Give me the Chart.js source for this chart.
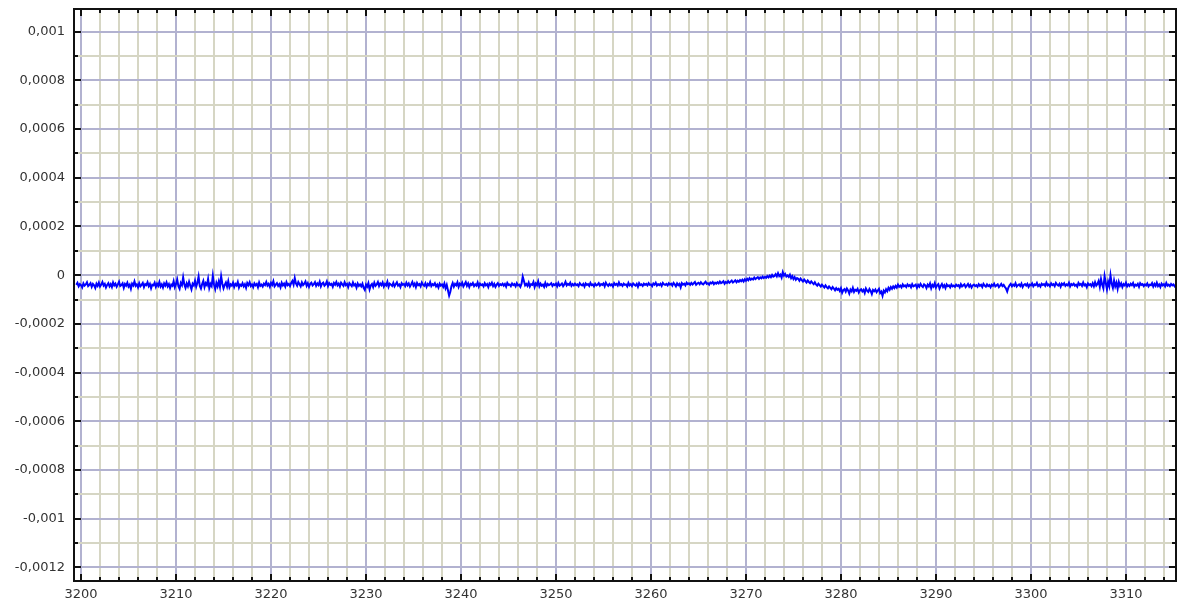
<!DOCTYPE html>
<html>
<head>
<meta charset="utf-8">
<script src="https://cdn.jsdelivr.net/npm/chart.js@4.4.1/dist/chart.umd.min.js"></script>
<style>
  html, body { margin: 0; padding: 0; background: #fff; }
  canvas { display: block; }
</style>
</head>
<body>
<canvas id="sig" width="1181" height="608"></canvas>
<script>
// signal samples (units of 1e-5), one every STEP starting at X0
const X0 = 3199.5;
const STEP = 0.125;
const signalE5 = [
  -4,-3.2,-4.6,-3.7,-4.1,-5,-3.4,-4.3,-3.8,-2.9,-4.5,-4,-3.3,-4.8,-3.6,-4.2,-5.3,-3.5,-4.4,-3.1,
  -4.7,-3.9,-2.8,-4.3,-3.6,-5.1,-4,-3.3,-4.6,-3.7,-4.9,-3,-4.2,-3.5,-4.8,-3.8,-2.7,-4.5,-4.1,-3.4,
  -5.2,-3.6,-4.3,-3.1,-4.7,-3.9,-5.6,-3.5,-4.2,-2.6,-4.4,-3.8,-5,-3.3,-4.6,-4,-3.2,-4.9,-3.7,-4.1,
  -2.9,-4.5,-3.6,-5.4,-3.9,-4.2,-3.1,-4.8,-3.5,-4.4,-2.8,-4.7,-3.8,-5.1,-3.4,-4.3,-3,-4.6,-3.7,-5.3,
  -3.9,-4.4,-2.5,-4.9,-3.6,-1.8,-4.5,-5.6,-3.2,-4.1,-0.9,-3.8,-5.2,-3.4,-4.6,-2.7,-4.3,-5.8,-3.5,-4.2,
  -2.3,-4.7,-3.1,-0.6,-4.4,-5.5,-3.7,-2.4,-4.9,-3.3,-4.1,-1.6,-5.3,-3.6,-4.5,-0.3,-3.9,-5.7,-3.2,-4.6,
  -2.6,-4.8,-0.5,-3.5,-5.4,-4,-3,-4.7,-2.5,-5,-3.8,-4.3,-3.1,-4.9,-3.6,-4.2,-2.8,-5.1,-3.9,-4.4,
  -3.3,-4.6,-3.7,-5.2,-3.2,-4.1,-2.9,-4.5,-3.8,-4.9,-3.4,-4.2,-3.6,-5,-3,-4.4,-3.9,-4.7,-3.5,-4.1,
  -2.8,-4.3,-3.6,-4.8,-3.2,-4,-2.5,-4.6,-3.9,-3.3,-4.4,-3.7,-5,-3.1,-4.2,-3.5,-4.7,-2.9,-4.1,-3.6,
  -4.5,-3.2,-2.4,-3.9,-1.2,-3.4,-4.3,-2.8,-3.7,-4.6,-3,-4.1,-3.5,-2.6,-4.4,-3.3,-4.8,-3.6,-3.1,-4.2,
  -3.7,-2.9,-4.4,-3.4,-4.1,-2.7,-4.6,-3.5,-3.1,-4.3,-3.8,-2.6,-4.5,-3.3,-4,-3.6,-4.8,-3.2,-3.9,-2.8,
  -4.2,-3.5,-4.7,-3.1,-3.8,-4.4,-2.9,-4.1,-3.6,-4.9,-3.3,-3.9,-4.5,-3,-4.2,-3.7,-5.1,-3.4,-4.4,-3.8,
  -4.6,-3.5,-5.2,-6.1,-3.9,-4.7,-3.3,-5.8,-4.2,-3.6,-4.9,-3.1,-4.4,-3.8,-2.8,-4.5,-3.4,-4.1,-3,-4.7,
  -3.6,-4.2,-2.7,-4.8,-3.5,-3.9,-4.4,-3.2,-4.6,-3.7,-2.9,-4.3,-3.8,-4.9,-3.3,-4,-3.6,-4.5,-3.1,-4.2,
  -3.4,-4.7,-3.8,-2.8,-4.3,-3.5,-4.9,-3.2,-4.1,-3.7,-4.6,-3,-3.9,-4.4,-3.3,-4.8,-3.6,-4.2,-2.9,-4.5,
  -3.7,-4.1,-3.3,-4.6,-3.9,-5.1,-3.5,-4.3,-3.8,-4.8,-3.4,-5.4,-4,-6.2,-8.4,-6.8,-4.5,-3.2,-4.7,-3.6,
  -4.2,-2.9,-4.8,-3.5,-4.1,-3.1,-4.6,-3.7,-2.8,-4.4,-3.4,-4.9,-3.6,-4,-3.2,-4.5,-3.8,-4.3,-3,-4.7,
  -3.5,-4.1,-3.8,-4.6,-3.3,-4.2,-3.7,-4.9,-3.4,-4,-3.1,-4.5,-3.6,-4.8,-3.9,-3.3,-4.4,-3.7,-4.1,-3.5,
  -4.3,-3.6,-4.7,-3.2,-4,-3.8,-4.5,-3.4,-4.1,-3.7,-4.6,-3.3,-4.2,-3.9,-4.8,-3.5,-0.6,-2.4,-4.2,-3.6,
  -4.4,-3.1,-4.7,-3.7,-4,-2.8,-4.9,-3.4,-4.1,-2.5,-4.6,-3.5,-4.3,-3.9,-4.8,-3.2,-4.5,-3.6,-4.1,-3.8,
  -3.3,-4.4,-3.7,-4.1,-3.5,-4.6,-3.2,-4.3,-3.9,-3.4,-4.5,-3.8,-2.7,-4.2,-3.6,-4,-3.1,-4.4,-3.7,-4.2,
  -3.5,-4.1,-3.8,-4.5,-3.3,-3.9,-4.2,-3.6,-4.7,-3.4,-4,-3.7,-4.4,-3.2,-4.1,-3.8,-4.6,-3.5,-4.2,-3.9,
  -3.3,-4.3,-3.7,-4,-3.4,-4.6,-3.1,-3.9,-4.4,-3.6,-4.2,-3.8,-4.7,-3.3,-4,-3.6,-4.3,-3,-4.1,-3.7,
  -4.4,-3.5,-4,-3.8,-4.6,-3.2,-4.2,-3.7,-4.5,-3.4,-3.9,-4.3,-3.6,-4.8,-3.3,-4.1,-3.8,-4.4,-3.5,-4,
  -3.6,-4.2,-3.3,-4,-3.8,-4.5,-3.4,-3.9,-3.1,-4.3,-3.7,-4.1,-3.5,-4.4,-3.2,-3.8,-4,-3.6,-4.2,-3.3,
  -3.9,-3.5,-4.3,-3.2,-3.8,-4.6,-3.4,-4.1,-3.6,-5,-3.3,-3.9,-3.5,-4.2,-3.1,-3.7,-3.4,-4,-3.2,-3.8,
  -3.3,-2.8,-3.9,-3.4,-3.1,-3.7,-2.9,-3.5,-3.8,-3.2,-2.7,-3.6,-3.3,-3.9,-3,-3.4,-2.8,-3.7,-3.1,-3.5,
  -2.9,-3.4,-2.6,-3.3,-3,-2.5,-3.5,-2.8,-3.2,-2.4,-3.1,-2.7,-2.2,-3,-2.6,-2.1,-2.9,-2.3,-2.7,-2,
  -2.5,-1.9,-2.6,-1.7,-2.3,-1.5,-2.1,-1.2,-1.9,-1.4,-1.8,-1,-1.6,-1.2,-0.8,-1.5,-0.9,-1.3,-0.6,-1.2,
  -0.7,-1.1,-0.4,-0.9,-0.2,-0.8,0.1,-0.6,-0.3,0.4,-0.5,0.8,-0.4,0.2,-1,1.2,-0.2,0.5,-0.6,-0.1,
  -0.7,0.2,-1.2,-0.4,-1.6,-0.8,-1.9,-1.2,-1.5,-2.3,-1.4,-2,-2.6,-1.8,-2.4,-3,-2.2,-2.8,-3.3,-2.6,
  -3.2,-3.7,-2.9,-3.8,-4.3,-3.5,-4.1,-4.7,-3.9,-4.5,-5.1,-4.2,-4.9,-5.4,-4.6,-5.2,-5.8,-4.9,-5.5,-6.2,
  -5.3,-6,-5.6,-6.5,-5.4,-7.2,-6.1,-5.7,-6.8,-5.5,-6.3,-7.6,-5.9,-6.6,-5.2,-6.9,-6,-6.4,-5.6,-7.1,
  -6.2,-5.8,-6.7,-6,-7.3,-5.5,-6.4,-6.9,-5.7,-6.5,-7.8,-6.1,-6.6,-5.9,-7,-6.3,-5.6,-7.4,-6.8,-8.5,
  -6.4,-7.1,-5.8,-6.6,-5.2,-6,-4.9,-5.6,-4.6,-5.3,-4.4,-5.1,-3.9,-4.8,-4.3,-5,-3.8,-4.6,-4.2,-4.9,
  -3.8,-4.5,-4.1,-5,-3.7,-4.6,-4.3,-3.9,-5.2,-4,-4.7,-3.6,-4.4,-4.9,-3.8,-4.2,-5.3,-3.9,-4.6,-3.4,
  -5.4,-4,-4.7,-3.3,-5.1,-4.2,-3.7,-5.5,-4.4,-3.6,-4.9,-4.1,-5.3,-3.8,-4.5,-4.2,-5,-3.9,-4.6,-4.3,
  -4.8,-3.9,-4.4,-4.1,-5,-3.7,-4.6,-4.2,-3.8,-4.9,-4.3,-3.6,-4.7,-4,-5.1,-4.2,-3.9,-4.5,-4.1,-4.8,
  -3.7,-4.4,-4,-4.9,-3.6,-4.3,-4.7,-3.8,-4.5,-4.1,-5,-3.9,-4.4,-3.5,-4.6,-4.2,-3.8,-4.9,-4.3,-3.6,
  -4.5,-4,-4.8,-5.5,-6.7,-5.1,-4.2,-3.6,-4.6,-3.9,-4.4,-3.3,-4.7,-4.1,-3.8,-4.5,-3.5,-4.9,-4,-3.7,
  -4.3,-3.6,-4.8,-3.9,-4.2,-3.4,-4.6,-3.8,-4.1,-3.2,-4.5,-3.9,-4.7,-3.5,-4,-3.7,-4.4,-3.1,-4.2,-3.8,
  -4.6,-3.4,-4.1,-3.7,-4.5,-3.2,-3.9,-4.3,-3.6,-4.8,-3.5,-4,-3.3,-4.4,-3.8,-4.2,-3.1,-4.6,-3.7,-4.1,
  -3.5,-4.3,-3.9,-4.7,-3.2,-4,-3.6,-4.4,-3,-4.2,-3.8,-4.9,-3.4,-4.1,-3.7,-4.5,-3.3,-4.6,-2.9,-4.3,
  -3.6,-2.4,-4.8,-1.6,-3.9,-5.4,-0.4,-3.2,-5.8,-2.7,-4.5,-0.1,-3.5,-5.2,-2.2,-4.6,-3.1,-5.6,-2.8,-4.4,
  -3.4,-4.9,-3.7,-4.2,-3.1,-4.6,-3.8,-4.4,-3.5,-4.1,-3.2,-4.7,-3.9,-4.3,-3.6,-4.8,-3.3,-4,-3.7,-4.5,
  -3.8,-4.2,-3.4,-4.6,-3.9,-4.1,-3.3,-4.7,-3.6,-4.4,-3.1,-4.5,-3.8,-4.9,-3.5,-4.2,-3.7,-4.6,-3.2,-4.3,
  -3.9,-4.5,-3.6,-4.2,-3.8,-4.6,-4,-4.1
];

// axis ticks: each gets a grid line, only the major ones a label
const xTicks = [];
for (let v = 3200; v <= 3314; v += 2) xTicks.push(v);
const yTicksE4 = [-12,-11,-10,-9,-8,-7,-6,-5,-4,-3,-2,-1,0,1,2,3,4,5,6,7,8,9,10];

const X_MIN = 3199.26, X_MAX = 3315.27;
const Y_MIN = -0.001256, Y_MAX = 0.001093;

const MAJOR_GRID = "#b2b2d0";
const MINOR_GRID = "#d6d6c4";

const isMajorX = (v) => Math.round(v) % 10 === 0;
const isMajorY = (v) => Math.round(v * 1e4) % 2 === 0;
const fmtY = (v) => String(parseFloat(v.toFixed(4))).replace(".", ",");

const points = signalE5.map((v, i) => ({ x: X0 + i * STEP, y: v * 1e-5 }));

Chart.defaults.font.family = "'DejaVu Sans', Verdana, sans-serif";
Chart.defaults.font.size = 13;
Chart.defaults.color = "#333";

// frame + inward tick marks on all four sides
const frameTicks = {
  id: "frameTicks",
  afterDraw(chart) {
    const { ctx, chartArea: a, scales } = chart;
    ctx.save();
    ctx.strokeStyle = "#111";
    ctx.lineWidth = 2;
    ctx.beginPath();
    scales.x.ticks.forEach(t => {
      const px = Math.round(scales.x.getPixelForValue(t.value));
      const len = isMajorX(t.value) ? 7 : 4;
      ctx.moveTo(px, a.bottom); ctx.lineTo(px, a.bottom - len);
      ctx.moveTo(px, a.top); ctx.lineTo(px, a.top + len);
    });
    scales.y.ticks.forEach(t => {
      const py = Math.round(scales.y.getPixelForValue(t.value));
      const len = isMajorY(t.value) ? 7 : 4;
      ctx.moveTo(a.left, py); ctx.lineTo(a.left + len, py);
      ctx.moveTo(a.right, py); ctx.lineTo(a.right - len, py);
    });
    ctx.stroke();
    ctx.strokeRect(a.left, a.top, a.right - a.left, a.bottom - a.top);
    ctx.restore();
  }
};

new Chart(document.getElementById("sig"), {
  type: "line",
  data: {
    datasets: [{
      data: points,
      borderColor: "#0000ff",
      borderWidth: 2,
      pointRadius: 0,
      tension: 0,
      fill: false
    }]
  },
  options: {
    responsive: false,
    animation: false,
    layout: { padding: { top: 9, right: 5, left: 0, bottom: 0 } },
    plugins: { legend: { display: false }, tooltip: { enabled: false } },
    scales: {
      x: {
        type: "linear",
        min: X_MIN,
        max: X_MAX,
        afterBuildTicks: (s) => { s.ticks = xTicks.map(v => ({ value: v })); },
        afterFit: (s) => { s.height = 27; s.paddingLeft = 0; s.paddingRight = 0; },
        border: { display: false },
        grid: {
          drawTicks: false,
          lineWidth: 2,
          color: (c) => (c.tick && isMajorX(c.tick.value)) ? MAJOR_GRID : MINOR_GRID
        },
        ticks: {
          autoSkip: false,
          maxRotation: 0,
          padding: 6,
          callback: (v) => isMajorX(v) ? String(v) : ""
        }
      },
      y: {
        type: "linear",
        min: Y_MIN,
        max: Y_MAX,
        afterBuildTicks: (s) => { s.ticks = yTicksE4.map(v => ({ value: v / 1e4 })); },
        afterFit: (s) => { s.width = 74; s.paddingTop = 0; s.paddingBottom = 0; },
        border: { display: false },
        grid: {
          drawTicks: false,
          lineWidth: 2,
          color: (c) => (c.tick && isMajorY(c.tick.value)) ? MAJOR_GRID : MINOR_GRID
        },
        ticks: {
          autoSkip: false,
          padding: 9,
          callback: (v) => isMajorY(v) ? fmtY(v) : ""
        }
      }
    }
  },
  plugins: [frameTicks]
});
</script>
</body>
</html>
